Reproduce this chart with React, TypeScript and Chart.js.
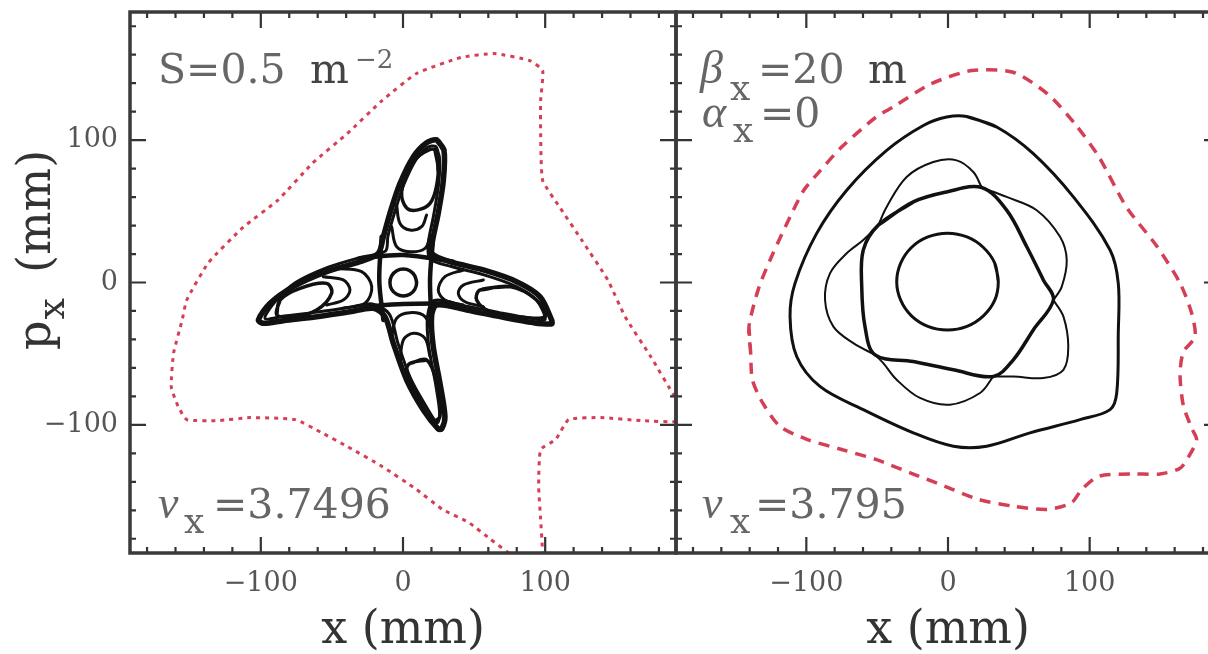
import React, { useEffect, useRef } from "react";
import { Chart, registerables } from "chart.js";

Chart.register(...registerables);

type P = [number, number];

// ---------------- axis ticks ----------------
const majorTicks: number[] = [-100, 0, 100];
const minorTicks: number[] = [-180, -160, -140, -120, -80, -60, -40, -20, 20, 40, 60, 80, 120, 140, 160, 180];

// ---------------- left panel: S = 0.5 m^-2, nu_x = 3.7496 ----------------
const leftAperture: P[] = [
  [79.2, -194.4], [73.6, -189.5], [61.6, -180.4], [46.1, -168.5], [27.8, -159.4], [9.5, -145.4],
  [-14.7, -129.2], [-39.1, -115.2], [-57.4, -105.4], [-75.7, -96.3], [-107.4, -94.9], [-130, -97],
  [-152.1, -96.3], [-158.1, -87.2], [-163, -73.2], [-161.3, -49.4], [-155.3, -26.3], [-152.1, -12.3],
  [-137, 13.7], [-112.3, 38.9], [-88, 57.8], [-63.7, 83.7], [-39.1, 104.7], [-14.7, 127.8],
  [9.5, 146.8], [40.5, 158], [64.4, 160.8], [89.1, 155.9], [98.2, 148.9], [96.8, 127.8],
  [96.8, 104.7], [98.2, 71.8], [110.2, 52.9], [125.7, 29.8], [144, 1.8], [156.3, -24.2],
  [174.3, -52.2], [191.2, -80.2], [202.5, -92.8], [193.3, -97.7], [167.3, -97], [139.1, -94.9],
  [116.5, -96.3], [107.4, -110.3], [96.8, -117.3], [95.4, -143.3], [96.8, -166.4], [98.2, -189.5],
  [98.2, -198],
];

const starOutline: P[] = [
  [23.7, 100.1], [28.8, 93.1], [28.4, 72.0], [24.8, 48.6], [20.9, 29.8], [20.1, 20.5],
  [33.0, 14.6], [56.5, 8.8], [79.9, 0.6], [96.3, -9.9], [104.5, -26.3], [104.5, -29.1],
  [91.6, -28.2], [68.2, -24.0], [44.8, -19.3], [23.7, -15.8],
  [20.1, -24.0], [21.3, -45.1], [26.0, -70.8], [29.5, -94.2], [27.2, -102.9], [24.8, -102.9],
  [14.3, -89.5], [2.6, -68.5], [-6.8, -42.7], [-12.7, -24.0],
  [-20.9, -18.1], [-37.3, -20.5], [-60.7, -24.0], [-84.2, -26.8], [-98.2, -28.7], [-101.7, -26.3],
  [-93.5, -14.6], [-77.1, -2.9], [-53.7, 7.6], [-30.2, 14.6], [-17.4, 20.5],
  [-13.8, 32.2], [-9.2, 48.6], [-2.1, 69.6], [7.3, 88.4], [16.6, 98.2],
];

const starInnerBand: P[] = [
  [23.0, 95.5], [25.6, 88.0], [25.2, 70.5], [21.6, 47.5], [17.8, 27.5], [19.0, 16.5],
  [34.0, 11.2], [57.0, 5.4], [79.0, -2.5], [93.5, -12.0], [100.0, -25.8],
  [90.8, -25.2], [67.8, -21.2], [44.6, -16.6], [22.0, -12.6],
  [17.2, -24.5], [18.2, -45.5], [22.8, -70.5], [25.8, -92.0], [24.0, -98.5],
  [16.0, -86.5], [5.4, -67.5], [-3.6, -42.5], [-9.6, -22.2],
  [-21.5, -15.0], [-37.5, -17.4], [-60.5, -20.8], [-83.6, -23.6], [-97.0, -25.4],
  [-90.5, -14.0], [-75.8, -0.2], [-53.0, 10.6], [-30.0, 17.6], [-12.4, 22.0],
  [-10.6, 32.6], [-6.0, 48.8], [0.6, 68.8], [9.2, 86.5], [17.0, 94.8],
];

const islandUp: P[] = [[22.5, 93.1], [24.8, 76.7], [19.0, 55.6], [4.9, 50.9], [-0.9, 60.3], [2.6, 76.7], [11.9, 89.5]];
const islandRight: P[] = [[54.1, -5.3], [75.2, -2.9], [94.0, -12.3], [99.8, -24.0], [79.9, -24.0], [61.2, -20.5], [51.8, -12.3]];
const islandLeft: P[] = [[-88.8, -22.8], [-86.5, -12.3], [-72.4, -4.1], [-53.7, -0.6], [-50.2, -7.6], [-60.7, -19.3], [-77.1, -24.0]];
const islandDown: P[] = [[4.9, -56.8], [16.6, -54.4], [23.7, -70.8], [26.0, -94.2], [20.1, -96.6], [9.6, -77.8], [2.6, -61.5]];

const arcUp1: P[] = [[-4.5, 54.4], [-2.1, 41.5], [4.9, 36.9], [13.1, 39.2], [16.6, 47.4]];
const arcUp2: P[] = [[-8.0, 39.2], [-4.5, 25.2], [4.9, 21.6], [15.5, 24.0], [19.0, 32.2]];
const arcRight1: P[] = [[56.5, 1.8], [42.4, -1.8], [38.9, -7.6], [43.6, -13.5], [56.5, -17.0]];
const arcRight2: P[] = [[42.4, 8.8], [29.5, 4.1], [24.8, -5.3], [29.5, -12.3], [42.4, -15.8]];
const arcLeft1: P[] = [[-56.0, 4.1], [-42.0, 1.8], [-37.3, -5.3], [-42.0, -12.3], [-53.7, -15.8]];
const arcLeft2: P[] = [[-46.7, 9.9], [-29.1, 7.6], [-22.0, -2.9], [-26.7, -14.6], [-42.0, -18.1]];
const arcDown1: P[] = [[-2.1, -56.8], [0.2, -40.4], [7.3, -35.7], [15.5, -39.2], [19.0, -52.1]];
const arcDown2: P[] = [[-8.0, -38.0], [-4.5, -25.2], [4.9, -21.2], [15.5, -24.0], [20.1, -35.7]];

const gridV1: P[] = [[-15.0, 32.2], [-16.7, 1.8], [-13.8, -26.3]];
const gridV2: P[] = [[20.9, 27.5], [19.0, 1.8], [20.1, -26.3]];
const gridH1: P[] = [[-30.2, 17.0], [0.2, 19.3], [35.4, 14.6]];
const gridH2: P[] = [[-27.9, -17.0], [0.2, -15.1], [33.0, -14.6]];

const starCore: P[] = [
  [9.6, 0], [8.3, 4.7], [4.8, 8.2], [0.2, 9.4], [-4.4, 8.2], [-8, 4.7],
  [-9.2, 0], [-8, -4.8], [-4.4, -8.3], [0.2, -9.5], [4.8, -8.3], [8.3, -4.8],
];

// ---------------- right panel: beta_x = 20 m, alpha_x = 0, nu_x = 3.795 ----------------
const rightAperture: P[] = [
  [-139.3, -49.6], [-140.5, -31], [-133.3, -2.9], [-123.5, 20.5], [-111.5, 46.1], [-101.8, 64.8],
  [-92, 76.5], [-75.1, 95.1], [-50.9, 116.1], [-38.8, 123.2], [-12.1, 139.5], [16.9, 148.9],
  [46, 147.7], [70.2, 132.5], [89.6, 111.5], [106.6, 88.1], [125.9, 53.1], [147.7, 25.1],
  [163.8, -0.4], [172, -21.6], [174.4, -38.2], [166.1, -48.7], [163.8, -64.8], [166.1, -86.3],
  [172, -102.3], [175.5, -110.3], [170.8, -120.8], [163.8, -130.5], [149.6, -134.5], [130.8, -134.5],
  [106.6, -136], [94.4, -145.4], [87.2, -154.7], [70.2, -159.4], [46, -157.1], [21.7, -152.4],
  [-2.5, -143], [-26.7, -133.7], [-50.9, -124.3], [-75.1, -117.3], [-99.3, -110.3], [-118.7, -101],
  [-130.8, -84.6], [-138.1, -68.3],
];

const outerOrbit: P[] = [
  [13.2, 116.6], [34.4, 109.2], [60.2, 90.5], [88.5, 60.1], [114.4, 22.8], [120.2, -0.6],
  [120.2, -35.6], [119.1, -77.6], [114.4, -89.3], [93.2, -96.3], [57.9, -105.6], [27.3, -115],
  [3.8, -115], [-24.5, -105.6], [-59.8, -89.3], [-90.4, -73], [-106.8, -52], [-111.5, -24],
  [-108, -0.6], [-92.7, 34.5], [-71.5, 64.8], [-43.3, 92.8], [-17.4, 110.3], [-0.9, 116.2],
];

const separatrix: P[] = [
  [-49.2, 40.3], [-24.5, 56.6], [-0.9, 63.6], [23.8, 66.7], [41.4, 50.8], [55.6, 25.1],
  [67.3, 1.8], [74.4, -12.3], [60.2, -33.3], [46.1, -54.3], [32, -66], [3.8, -61.3],
  [-24.5, -55.5], [-51.5, -50.8], [-58.6, -31], [-60.9, -2.9], [-59.8, 22.8],
];

const lobeTop: P[] = [[-49.2, 40.3], [-43.3, 53.1], [-29.2, 74.1], [-10.4, 84.6], [6.1, 85.8], [17.9, 77.6], [23.8, 66.7]];
const lobeRightUpper: P[] = [[23.8, 66.7], [41.4, 60.1], [62.6, 50.8], [79.1, 32.1], [83.8, 15.8], [80.3, -2.9], [74.4, -12.3]];
const lobeRightLower: P[] = [[74.4, -12.3], [81.5, -24], [84.9, -45], [81.5, -61.3], [67.3, -67.1], [46.1, -66], [32, -66]];
const lobeBottom: P[] = [[32, -66], [22.6, -77.6], [1.4, -85.8], [-19.8, -81.1], [-36.2, -68.3], [-45.7, -56.6], [-51.5, -50.8]];
const lobeLeft: P[] = [[-51.5, -50.8], [-66.8, -42.6], [-80.9, -31], [-86.8, -12.3], [-83.3, 6.4], [-71.5, 20.5], [-59.8, 29.8], [-49.2, 40.3]];

const coreOrbit: P[] = [
  [35.5, 0.6], [33, 13.6], [25, 24.6], [13.4, 32], [-0.4, 34.6], [-14.2, 32], [-25.8, 24.6], [-33.4, 13.6],
  [-36.2, 0.6], [-33.4, -12.4], [-25.8, -23.4], [-14.2, -30.8], [-0.4, -33.4], [13.4, -30.8], [25, -23.4], [33, -12.4],
];

// ---------------- styling helpers ----------------
const RED = "rgba(208, 42, 68, 0.9)";
const INK = "#111";
const SERIF = "'DejaVu Serif', serif";
const ITALIC_SERIF = "'Liberation Serif', serif";

const toXY = (pts: P[]) => pts.map(([x, y]) => ({ x, y }));
const loop = (pts: P[]): P[] => [...pts, pts[0], pts[1]];

function curve(pts: P[], color: string, width: number, extra: Record<string, unknown> = {}) {
  return {
    data: toXY(pts),
    showLine: true,
    borderColor: color,
    backgroundColor: color,
    borderWidth: width,
    pointRadius: 0,
    pointHoverRadius: 0,
    fill: false,
    tension: 0.35,
    capBezierPoints: false,
    borderJoinStyle: "round",
    borderCapStyle: "round",
    ...extra,
  };
}

const fmt = (v: number) => (v < 0 ? "\u2212" + Math.abs(v) : String(v));

const framePlugin = {
  id: "frameTicks",
  afterDatasetsDraw(chart: any) {
    const { ctx, chartArea: a, scales } = chart;
    const xs = scales.x;
    const ys = scales.y;
    ctx.save();
    ctx.strokeStyle = "#333";
    ctx.lineCap = "butt";
    const draw = (vals: number[], len: number) => {
      ctx.lineWidth = 2.2;
      ctx.beginPath();
      for (const v of vals) {
        const px = xs.getPixelForValue(v);
        if (px > a.left && px < a.right) {
          ctx.moveTo(px, a.bottom);
          ctx.lineTo(px, a.bottom - len);
          ctx.moveTo(px, a.top);
          ctx.lineTo(px, a.top + len);
        }
        const py = ys.getPixelForValue(v);
        if (py > a.top && py < a.bottom) {
          ctx.moveTo(a.left, py);
          ctx.lineTo(a.left + len, py);
          ctx.moveTo(a.right, py);
          ctx.lineTo(a.right - len, py);
        }
      }
      ctx.stroke();
    };
    draw(majorTicks, 16);
    draw(minorTicks, 6);
    ctx.lineWidth = 3.5;
    ctx.strokeStyle = "#3a3a3a";
    ctx.strokeRect(a.left, a.top, a.right - a.left, a.bottom - a.top);
    ctx.restore();
  },
};

type TextPiece = { t: string; x: number; y: number; size: number; italic?: boolean; color?: string };

function textPlugin(id: string, offsetX: number, pieces: TextPiece[], yTitle: boolean) {
  return {
    id,
    afterDraw(chart: any) {
      const ctx = chart.ctx as CanvasRenderingContext2D;
      ctx.save();
      ctx.textAlign = "left";
      ctx.textBaseline = "alphabetic";
      for (const p of pieces) {
        ctx.font = `${p.italic ? "italic " : ""}${p.size}px ${p.italic ? ITALIC_SERIF : SERIF}`;
        ctx.fillStyle = p.color || "#666";
        ctx.fillText(p.t, p.x - offsetX, p.y);
      }
      if (yTitle) {
        ctx.translate(50 - offsetX, 350);
        ctx.rotate(-Math.PI / 2);
        ctx.fillStyle = "#333";
        ctx.font = `46px ${SERIF}`;
        ctx.fillText("p", 0, 0);
        const pw = ctx.measureText("p").width;
        ctx.font = `38px ${SERIF}`;
        ctx.fillText("x", pw + 1, 14);
        ctx.font = `46px ${SERIF}`;
        ctx.fillText("(mm)", 77, 0);
      }
      ctx.restore();
    },
  };
}

function makeConfig(opts: {
  datasets: any[];
  yAxisWidth: number;
  padRight: number;
  showYLabels: boolean;
  plugins: any[];
}) {
  return {
    type: "scatter" as const,
    data: { datasets: opts.datasets },
    options: {
      animation: false,
      responsive: false,
      devicePixelRatio: 1,
      layout: { padding: { left: 0, top: 12, right: opts.padRight, bottom: 0 } },
      plugins: { legend: { display: false }, tooltip: { enabled: false } },
      events: [],
      scales: {
        x: {
          type: "linear",
          position: "bottom",
          min: -192,
          max: 192,
          grid: { display: false, drawTicks: false },
          border: { display: false },
          afterBuildTicks: (s: any) => {
            s.ticks = majorTicks.map((v) => ({ value: v }));
          },
          afterFit: (s: any) => {
            s.height = 101;
            s.paddingLeft = 0;
            s.paddingRight = 0;
            s.paddingTop = 0;
            s.paddingBottom = 0;
          },
          ticks: {
            font: { family: SERIF, size: 27 },
            color: "#555",
            padding: 15,
            maxRotation: 0,
            autoSkip: false,
            callback: (v: any) => fmt(Number(v)),
          },
          title: {
            display: true,
            text: "x (mm)",
            color: "#333",
            font: { family: SERIF, size: 46, lineHeight: 1 },
            padding: 0,
          },
        },
        y: {
          type: "linear",
          position: "left",
          min: -190,
          max: 190,
          grid: { display: false, drawTicks: false },
          border: { display: false },
          afterBuildTicks: (s: any) => {
            s.ticks = majorTicks.map((v) => ({ value: v }));
          },
          afterFit: (s: any) => {
            s.width = opts.yAxisWidth;
            s.paddingLeft = 0;
            s.paddingRight = 0;
            s.paddingTop = 0;
            s.paddingBottom = 0;
          },
          ticks: {
            display: opts.showYLabels,
            font: { family: SERIF, size: 27 },
            color: "#555",
            padding: 12,
            autoSkip: false,
            callback: (v: any) => fmt(Number(v)),
          },
        },
      },
    },
    plugins: opts.plugins,
  };
}

export default function App() {
  const leftRef = useRef<HTMLCanvasElement>(null);
  const rightRef = useRef<HTMLCanvasElement>(null);

  useEffect(() => {
    const leftDatasets = [
      curve(leftAperture, RED, 3, { borderDash: [4, 5], tension: 0.15, borderCapStyle: "butt" }),
      curve(loop(starOutline), INK, 5.5, { tension: 0.3 }),
      curve(loop(starInnerBand), INK, 3, { tension: 0.3 }),
      curve(loop(islandUp), INK, 3.5),
      curve(loop(islandRight), INK, 3.5),
      curve(loop(islandLeft), INK, 3.5),
      curve(loop(islandDown), INK, 3.5),
      curve(arcUp1, INK, 3),
      curve(arcUp2, INK, 3),
      curve(arcRight1, INK, 3),
      curve(arcRight2, INK, 3),
      curve(arcLeft1, INK, 3),
      curve(arcLeft2, INK, 3),
      curve(arcDown1, INK, 3),
      curve(arcDown2, INK, 3),
      curve(gridV1, INK, 4.5),
      curve(gridV2, INK, 4.5),
      curve(gridH1, INK, 4.5),
      curve(gridH2, INK, 4.5),
      curve(loop(starCore), INK, 3.5),
    ];
    const rightDatasets = [
      curve(loop(rightAperture), RED, 3.5, { borderDash: [11, 8], tension: 0.25, borderCapStyle: "butt" }),
      curve(loop(outerOrbit), INK, 3),
      curve(loop(separatrix), INK, 3.5),
      curve(lobeTop, INK, 2),
      curve(lobeRightUpper, INK, 2),
      curve(lobeRightLower, INK, 2),
      curve(lobeBottom, INK, 2),
      curve(lobeLeft, INK, 2),
      curve(loop(coreOrbit), INK, 3),
    ];

    const leftText: TextPiece[] = [
      { t: "S=0.5", x: 158, y: 83, size: 41 },
      { t: "m", x: 310, y: 83, size: 41, color: "#444" },
      { t: "\u22122", x: 355, y: 68, size: 26 },
      { t: "\u03bd", x: 158, y: 518, size: 46, italic: true },
      { t: "x", x: 184, y: 533, size: 36 },
      { t: "=3.7496", x: 213, y: 518, size: 41 },
    ];
    const rightText: TextPiece[] = [
      { t: "\u03b2", x: 700, y: 83, size: 46, italic: true },
      { t: "x", x: 730, y: 100, size: 36 },
      { t: "=20", x: 758, y: 83, size: 41 },
      { t: "m", x: 868, y: 83, size: 41, color: "#444" },
      { t: "\u03b1", x: 702, y: 127, size: 46, italic: true },
      { t: "x", x: 733, y: 142, size: 36 },
      { t: "=0", x: 760, y: 127, size: 41 },
      { t: "\u03bd", x: 702, y: 518, size: 46, italic: true },
      { t: "x", x: 730, y: 533, size: 36 },
      { t: "=3.795", x: 755, y: 518, size: 41 },
    ];

    const left = new Chart(
      leftRef.current!,
      makeConfig({
        datasets: leftDatasets,
        yAxisWidth: 130,
        padRight: 14,
        showYLabels: true,
        plugins: [framePlugin, textPlugin("leftText", 0, leftText, true)],
      }) as any
    );
    const right = new Chart(
      rightRef.current!,
      makeConfig({
        datasets: rightDatasets,
        yAxisWidth: 76,
        padRight: 20,
        showYLabels: false,
        plugins: [framePlugin, textPlugin("rightText", 600, rightText, false)],
      }) as any
    );
    return () => {
      left.destroy();
      right.destroy();
    };
  }, []);

  return (
    <div
      style={{
        position: "fixed",
        left: 0,
        top: 0,
        width: 1208,
        height: 654,
        overflow: "hidden",
        background: "#fff",
      }}
    >
      <canvas ref={leftRef} width={690} height={654} style={{ position: "absolute", left: 0, top: 0 }} />
      <canvas ref={rightRef} width={640} height={654} style={{ position: "absolute", left: 600, top: 0 }} />
    </div>
  );
}
